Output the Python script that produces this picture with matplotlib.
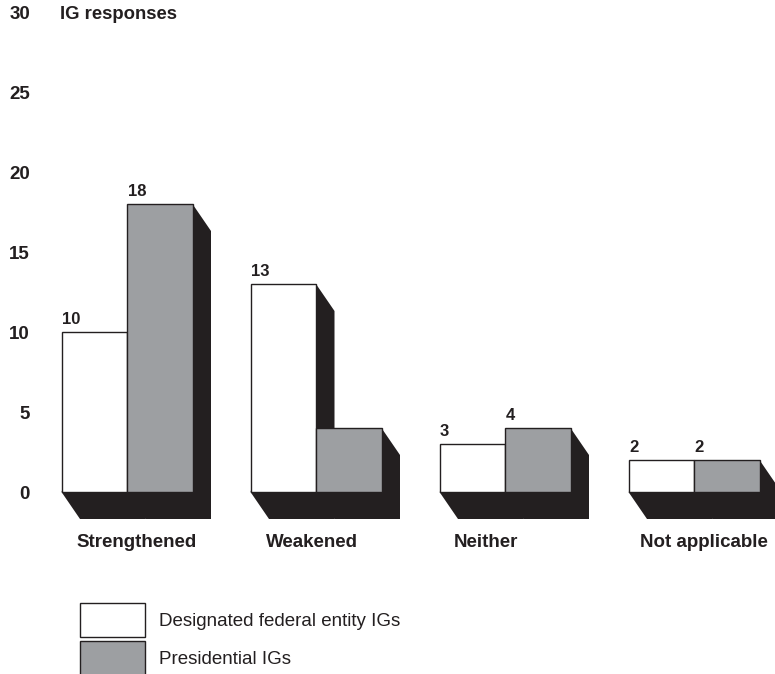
import matplotlib.pyplot as plt
from matplotlib.patches import Rectangle, Polygon

plt.rcParams['font.family'] = ['Liberation Sans', 'DejaVu Sans']

categories = ['Strengthened', 'Weakened', 'Neither', 'Not applicable']
designated = [10, 13, 3, 2]
presidential = [18, 4, 4, 2]
series_names = ['Designated federal entity IGs', 'Presidential IGs']
yticks = [0, 5, 10, 15, 20, 25, 30]

WHITE = '#ffffff'
GRAY = '#9d9fa2'
SHADOW = '#231f20'
INK = '#231f20'

W, H = 775, 674
fig = plt.figure(figsize=(W / 100, H / 100), dpi=100)
ax = fig.add_axes([0, 0, 1, 1])

# one category step = 189 px, one unit = 16 px, baseline at 492 px
step_px, unit_px, base_px, first_px = 189, 16, 492, 127
ax.set_xlim(-first_px / step_px, (W - first_px) / step_px)
ax.set_ylim(-(H - base_px) / unit_px, base_px / unit_px)
ax.axis('off')

bw = 65.5 / step_px          # bar width
dx = 18.5 / step_px          # extrusion to the right
dy = 27 / unit_px            # extrusion downward


def bar3d(x0, h, color):
    x1 = x0 + bw
    shade = Polygon([(x0, 0), (x0 + dx, -dy), (x1 + dx, -dy),
                     (x1 + dx, h - dy), (x1, h)],
                    closed=True, facecolor=SHADOW, edgecolor='none', zorder=1)
    ax.add_patch(shade)
    ax.add_patch(Rectangle((x0, 0), bw, h, facecolor=color,
                           edgecolor=INK, lw=1.0, zorder=3))
    ax.text(x0 + 0.003, h + 0.3, str(h), fontsize=12, fontweight='bold',
            color=INK, ha='left', va='bottom', zorder=4)


for i, cat in enumerate(categories):
    bar3d(i - bw, designated[i], WHITE)
    bar3d(i, presidential[i], GRAY)

# category labels under the extruded floor
label_nudge = [10, -4, -19, 10]
for i, cat in enumerate(categories):
    ax.text(i + label_nudge[i] / step_px, -3.15, cat, fontsize=13.5,
            fontweight='bold', color=INK, ha='center', va='center')

# y scale labels
for t in yticks:
    ax.text(30 / W, t - 0.18, str(t), transform=ax.get_yaxis_transform(),
            fontsize=13.5, fontweight='bold', color=INK,
            ha='right', va='center')
ax.text(60 / W, 30 - 0.18, 'IG responses', transform=ax.get_yaxis_transform(),
        fontsize=13.3, fontweight='bold', color=INK, ha='left', va='center')

# legend
for k, (name, color) in enumerate(zip(series_names, [WHITE, GRAY])):
    top = 603 + 38 * k
    fig.patches.append(Rectangle((80 / W, 1 - (top + 34) / H), 65 / W, 34 / H,
                                 transform=fig.transFigure, facecolor=color,
                                 edgecolor=INK, lw=1.0))
    fig.text(159 / W, 1 - (top + 19) / H, name, fontsize=13.5,
             color=INK, ha='left', va='center')

fig.savefig('out.png', dpi=100)
